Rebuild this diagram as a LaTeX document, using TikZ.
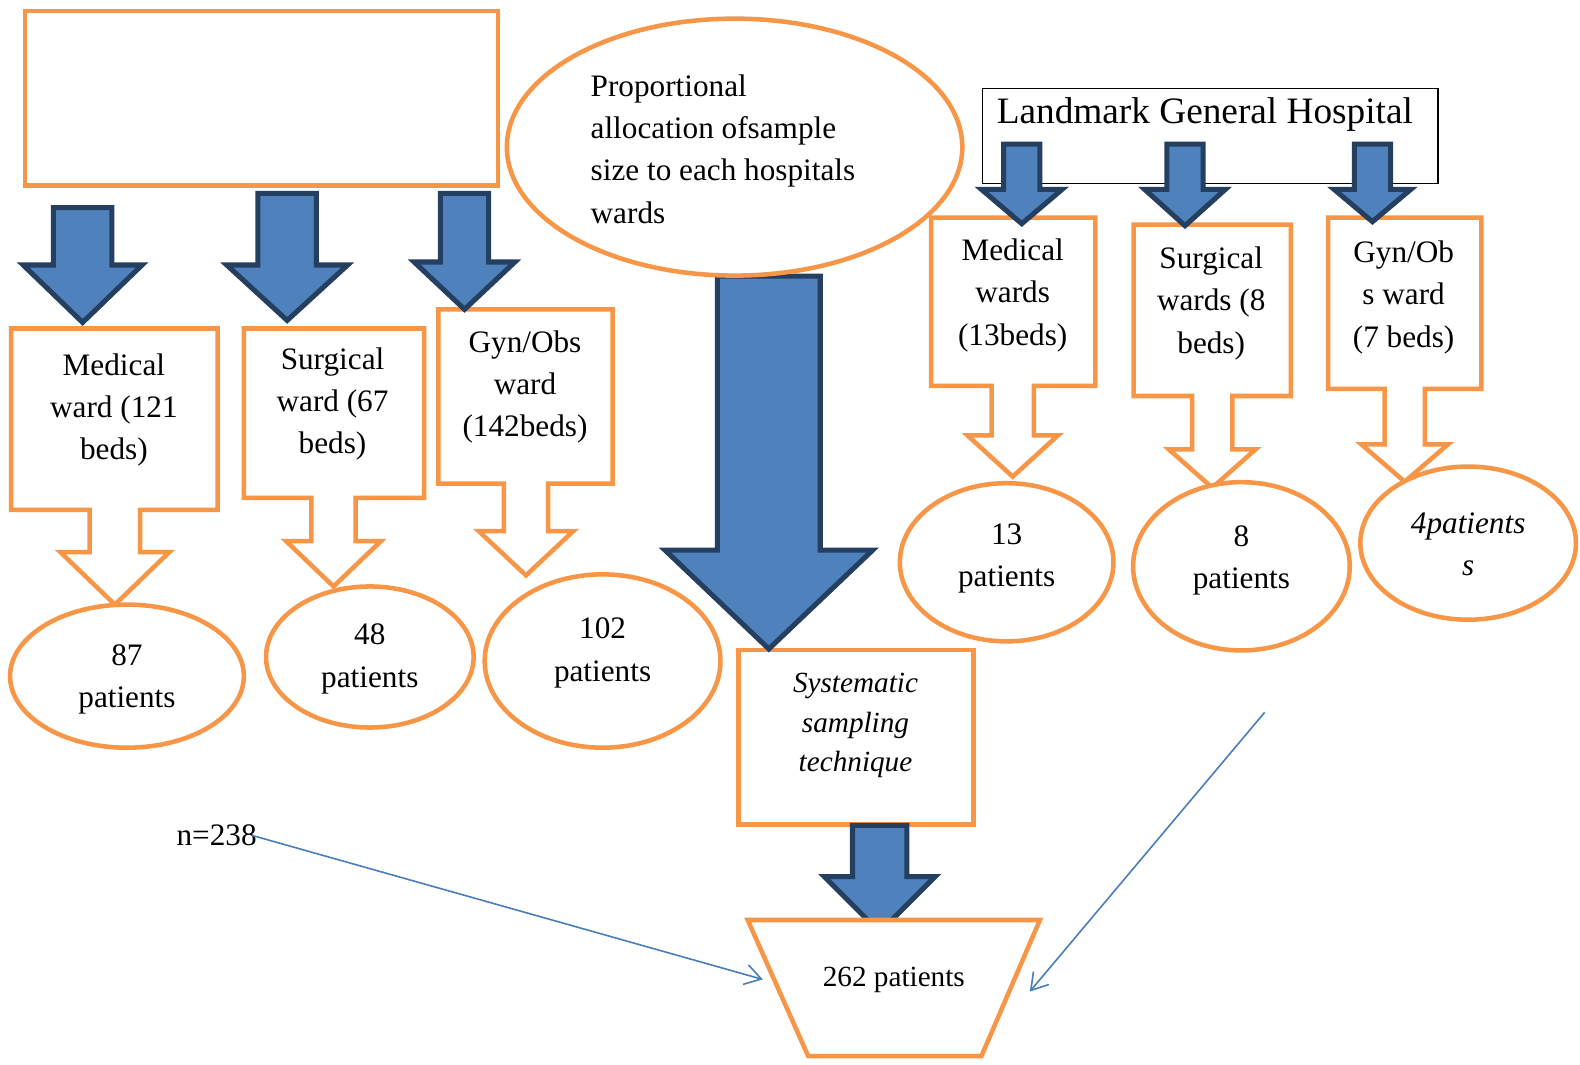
\documentclass[tikz,border=0pt]{standalone}
\usepackage{fontspec}
\setmainfont{Liberation Serif}
\usetikzlibrary{shapes.geometric,arrows.meta}
\definecolor{wardorange}{HTML}{F79646}
\definecolor{arrowblue}{HTML}{4F81BD}
\definecolor{arrowedge}{HTML}{243F60}
\definecolor{lineblue}{HTML}{4A7EBB}
\tikzset{wardbox/.style={draw=wardorange,line width=4.5pt,fill=white,line join=miter},
	blockarrow/.style={draw=arrowedge,line width=5pt,fill=arrowblue,line join=miter},
	countellipse/.style={ellipse,draw=wardorange,line width=4.5pt,fill=white,inner sep=0pt},
	wardtext/.style={align=center,inner sep=0pt,font=\fontsize{31}{42}\selectfont},
	smalltext/.style={align=center,inner sep=0pt,font=\fontsize{29}{39}\selectfont},
	thinarrow/.style={draw=lineblue,line width=1.6pt,-{Straight Barb[length=16pt,width=20pt]}}}
\newcommand{\bluearrow}[6]{\draw[blockarrow] (#1-#3,#2) -- (#1+#3,#2) -- (#1+#3,#4) -- (#1+#5,#4)
  -- (#1,#6) -- (#1-#5,#4) -- (#1-#3,#4) -- cycle;}
\newcommand{\wardcallout}[9]{\draw[wardbox] (#1,#2) -- (#3,#2) -- (#3,#4) -- (#5+#6,#4) -- (#5+#6,#7)
  -- (#5+#8,#7) -- (#5,#9) -- (#5-#8,#7) -- (#5-#6,#7) -- (#5-#6,#4) -- (#1,#4) -- cycle;}

\begin{document}
\begin{tikzpicture}[x=1pt,y=-1pt]
\useasboundingbox (0,0) rectangle (1568,1056);
\draw[wardbox] (25,11) rectangle (494,184);
\wardcallout{11}{326}{216}{506}{114}{25}{548}{54}{600}
\wardcallout{242}{326}{421}{494}{331}{22}{537}{47}{582}
\wardcallout{435}{307}{608}{480}{522}{22}{527}{47}{571}
\bluearrow{82}{206}{29}{263}{59}{320}
\bluearrow{285}{192}{29}{263}{60}{318}
\bluearrow{461}{192}{24}{260}{50}{307}
\node[countellipse,minimum width=232pt,minimum height=142pt] (e87) at (126,671) {};
\node[countellipse,minimum width=206pt,minimum height=140pt] (e48) at (367,652) {};
\node[countellipse,minimum width=234pt,minimum height=172pt] (e102) at (598,656) {};
\draw[wardbox] (733,645) rectangle (966,818);
\bluearrow{763}{274}{51}{546}{103}{644}
\node[countellipse,minimum width=452pt,minimum height=255pt] (alloc) at (729,146) {};
\bluearrow{873}{819}{27}{870}{55}{925}
\draw[wardbox] (742,913) -- (1032,913) -- (974,1048) -- (802,1048) -- cycle;
\draw[line width=1.2pt] (975,88) rectangle (1427,182);
\wardcallout{924}{216}{1087}{383}{1005}{21}{432}{45}{473}
\wardcallout{1125}{223}{1281}{393}{1203}{20}{446}{43}{484}
\wardcallout{1318}{216}{1470}{386}{1394}{20}{441}{43}{478}
\bluearrow{1014}{143}{18}{188}{40}{222}
\bluearrow{1176}{143}{18}{188}{40}{224}
\bluearrow{1362}{143}{18}{188}{38}{220}
\node[countellipse,minimum width=212pt,minimum height=157pt] (e13) at (999,558) {};
\node[countellipse,minimum width=215pt,minimum height=167pt] (e8) at (1232,562) {};
\node[countellipse,minimum width=214pt,minimum height=152pt] (e4) at (1457,539) {};
\node[wardtext] (medL) at (113,407) {Medical\\ward (121\\beds)};
\node[wardtext] (surL) at (330,401) {Surgical\\ward (67\\beds)};
\node[wardtext] (gynL) at (521,384) {Gyn/Obs\\ward\\(142beds)};
\node[wardtext] (t87) at (126,674) {87\\patients};
\node[wardtext] (t48) at (367,654) {48\\patients};
\node[wardtext] (t102) at (598,648) {102\\patients};
\node[wardtext,align=left,anchor=west] (allocL) at (586,148) {Proportional\\allocation ofsample\\size to each hospitals\\wards};
\node[smalltext,font=\fontsize{29}{39}\selectfont\itshape] (syst) at (849,720) {Systematic\\sampling\\technique};
\node[smalltext] (total) at (887,972) {262 patients};
\node[inner sep=0pt,anchor=base west,font=\fontsize{37}{44}\selectfont] (lgh) at (989,123) {Landmark General Hospital};
\node[wardtext] (medR) at (1005,293) {Medical\\wards\\(13beds)};
\node[wardtext] (surR) at (1202,301) {Surgical\\wards (8\\beds)};
\node[wardtext] (gynR) at (1393,295) {Gyn/Ob\\s ward\\(7 beds)};
\node[wardtext] (t13) at (999,554) {13\\patients};
\node[wardtext] (t8) at (1232,556) {8\\patients};
\node[wardtext,font=\fontsize{31}{42}\selectfont\itshape] (t4) at (1457,540) {4patients\\s};
\node[wardtext] (nsize) at (215,829) {n=238};
\coordinate (leftin) at (757,972);
\coordinate (rightout) at (1255,707);
\coordinate (rightin) at (1022,984);
\draw[thinarrow] ([xshift=-5pt]nsize.east) -- (leftin);
\draw[thinarrow] (rightout) -- (rightin);
\end{tikzpicture}
\end{document}
